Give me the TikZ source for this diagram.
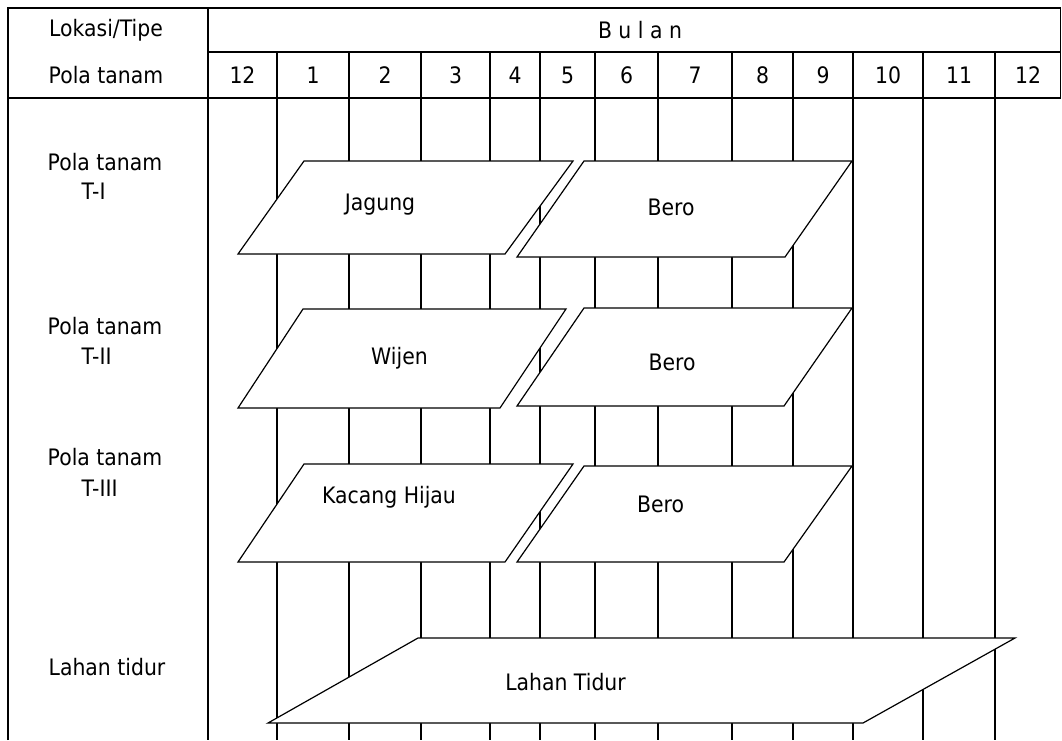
\documentclass[tikz,border=0pt]{standalone}
\usepackage{fontspec}
\setmainfont{DejaVu Sans}[FakeStretch=0.9]
\usepackage{tikz}
\usetikzlibrary{positioning}

\begin{document}
\begin{tikzpicture}[
  x=0.75pt, y=-0.75pt,
  every node/.style={font=\fontsize{17}{20}\selectfont, inner sep=1pt},
  rule/.style={line width=0.9pt},
  plot/.style={draw, fill=white, line width=0.9pt, line join=miter},
  rowlabel/.style={anchor=west},
]
\useasboundingbox (0,0) rectangle (1062,740);

% Table frame
\draw[rule] (8,740) -- (8,8) -- (1060.5,8) -- (1060.5,98);
\draw[rule] (208,8) -- (208,740);
\draw[rule] (208,52) -- (1060.5,52);
\draw[rule] (8,98) -- (1060.5,98);

% Month columns
\foreach \x in {277,349,421,490,540,595,658,732,793,853,923,995} {
  \draw[rule] (\x,52) -- (\x,740);
}

% Header labels
\node (hlok) at (106,30) {Lokasi/Tipe};
\node (hpola) at (106,75) {Pola tanam};
\node (hbulan) at (640,30) {B u l a n};
\foreach \a/\b/\m [count=\i] in {208/277/12, 277/349/1, 349/421/2, 421/490/3,
    490/540/4, 540/595/5, 595/658/6, 658/732/7, 732/793/8, 793/853/9,
    853/923/10, 923/995/11, 995/1061/12} {
  \node (m\i) at ({(\a+\b)/2},75) {\m};
}

% Row labels
\node (p1) at (105,162) {Pola tanam};
\node[rowlabel] (t1) at (80,191) {T-I};
\node (p2) at (105,326) {Pola tanam};
\node[rowlabel] (t2) at (80,356) {T-II};
\node (p3) at (105,457) {Pola tanam};
\node[rowlabel] (t3) at (80,488) {T-III};
\node (lt) at (107,667) {Lahan tidur};

% Pola tanam T-I
\draw[plot] (304,161) -- (573,161) -- (505,254) -- (238,254) -- cycle;
\draw[plot] (584,161) -- (852,161) -- (785,257) -- (517,257) -- cycle;
\node (jagung) at (380,204.5) {Jagung};
\node (bero1) at (671,207.5) {Bero};

% Pola tanam T-II
\draw[plot] (303,309) -- (566,309) -- (500,408) -- (238,408) -- cycle;
\draw[plot] (584,308) -- (852,308) -- (784,406) -- (517,406) -- cycle;
\node (wijen) at (399.5,358) {Wijen};
\node (bero2) at (672,362) {Bero};

% Pola tanam T-III
\draw[plot] (304,464) -- (573,464) -- (505,562) -- (238,562) -- cycle;
\draw[plot] (584,466) -- (852,466) -- (784,562) -- (517,562) -- cycle;
\node (kacang) at (389,497) {Kacang Hijau};
\node (bero3) at (660.5,504) {Bero};

% Lahan tidur
\draw[plot] (418,638) -- (1015,638) -- (863,723) -- (268,723) -- cycle;
\node (tidur) at (565.5,682.5) {Lahan Tidur};

\end{tikzpicture}
\end{document}
